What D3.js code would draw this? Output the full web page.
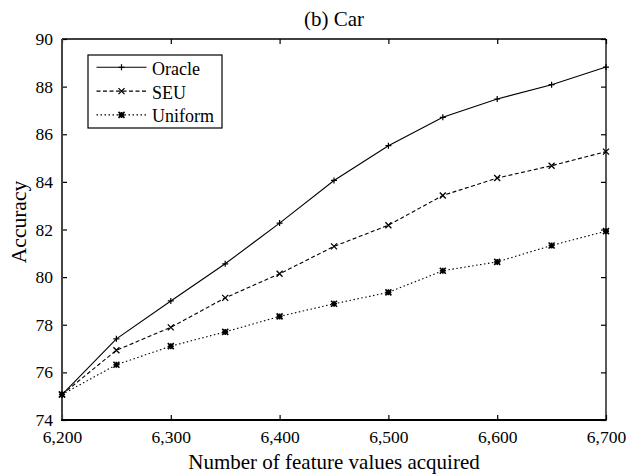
<!DOCTYPE html>
<html><head><meta charset="utf-8">
<script src="https://cdn.jsdelivr.net/npm/d3@7"></script>
<style>body{margin:0;background:#fff}</style>
</head><body><svg id="c" width="626" height="474"></svg>
<script>
const xValues = [6200,6250,6300,6350,6400,6450,6500,6550,6600,6650,6700];
const oracle  = [75.07,77.41,79.0,80.56,82.27,84.06,85.52,86.71,87.48,88.08,88.82];
const seu     = [75.07,76.93,77.89,79.13,80.14,81.29,82.18,83.43,84.16,84.68,85.27];
const uniform = [75.07,76.32,77.1,77.7,78.35,78.88,79.36,80.27,80.64,81.33,81.93];
const seriesNames = ["Oracle","SEU","Uniform"];
const xTicks = [6200,6300,6400,6500,6600,6700];
const yTicks = [74,76,78,80,82,84,86,88,90];
const titleText = "(b) Car";
const xLabel = "Number of feature values acquired";
const yLabel = "Accuracy";

const FONT = "Liberation Serif";
const svg = d3.select("#c");
const L=62,R=606,T=39,B=420;
const x = d3.scaleLinear().domain([6200,6700]).range([L,R]);
const y = d3.scaleLinear().domain([74,90]).range([B,T]);
const fmt = d3.format(",");
const tickFs = 17.5, labFs = 21, legFs = 18;

const tk=5;
function styleAxis(g){
  g.select(".domain").remove();
  g.selectAll("text").style("font-family",FONT).style("font-size",tickFs+"px").attr("fill","#000");
  g.selectAll(".tick line").attr("stroke","#000").attr("stroke-width",1.2);
}
svg.append("g").attr("transform",`translate(0,${B})`)
  .call(d3.axisBottom(x).tickValues(xTicks).tickFormat(fmt).tickSizeInner(-tk).tickSizeOuter(0).tickPadding(11))
  .call(styleAxis);
svg.append("g").attr("transform",`translate(0,${T})`)
  .call(d3.axisTop(x).tickValues(xTicks).tickFormat("").tickSizeInner(-tk).tickSizeOuter(0))
  .call(styleAxis);
svg.append("g").attr("transform",`translate(${L},0)`)
  .call(d3.axisLeft(y).tickValues(yTicks).tickFormat(d3.format("d")).tickSizeInner(-tk).tickSizeOuter(0).tickPadding(9))
  .call(styleAxis);
svg.append("g").attr("transform",`translate(${R},0)`)
  .call(d3.axisRight(y).tickValues(yTicks).tickFormat("").tickSizeInner(-tk).tickSizeOuter(0))
  .call(styleAxis);

// frame
svg.append("line").attr("x1",L).attr("x2",R).attr("y1",T).attr("y2",T).attr("stroke","#000").attr("stroke-width",1.3);
svg.append("line").attr("x1",R).attr("x2",R).attr("y1",T).attr("y2",B).attr("stroke","#000").attr("stroke-width",1.3);
svg.append("line").attr("x1",L).attr("x2",L).attr("y1",T).attr("y2",B).attr("stroke","#444").attr("stroke-width",2);
svg.append("line").attr("x1",L-1).attr("x2",R+0.6).attr("y1",B).attr("y2",B).attr("stroke","#000").attr("stroke-width",2);

function txt(fs){ return svg.append("text").style("font-family",FONT).style("font-size",fs+"px").attr("fill","#000"); }
txt(labFs).attr("x",334).attr("y",26).attr("text-anchor","middle").text(titleText);
txt(labFs).attr("x",334).attr("y",468.5).attr("text-anchor","middle").text(xLabel);
txt(labFs+0.5).attr("transform",`translate(26,222) rotate(-90)`).attr("text-anchor","middle").text(yLabel);

const data = [oracle,seu,uniform];
const dashes = [null,"4,2.5","1.5,2.5"];
function marker(g,kind,cx,cy){
  const s=3;
  if(kind===0){
    g.append("path").attr("d",`M${cx-s},${cy}H${cx+s}M${cx},${cy-s}V${cy+s}`).attr("stroke","#000").attr("stroke-width",1.2);
  } else if(kind===1){
    g.append("path").attr("d",`M${cx-s},${cy-s}L${cx+s},${cy+s}M${cx-s},${cy+s}L${cx+s},${cy-s}`).attr("stroke","#000").attr("stroke-width",1.3);
  } else {
    g.append("path").attr("d",`M${cx-s},${cy}H${cx+s}M${cx},${cy-s}V${cy+s}M${cx-s},${cy-s}L${cx+s},${cy+s}M${cx-s},${cy+s}L${cx+s},${cy-s}`).attr("stroke","#000").attr("stroke-width",1.6);
  }
}
const line = d3.line().x((d,i)=>x(xValues[i])).y(d=>y(d));
data.forEach((vals,k)=>{
  svg.append("path").datum(vals).attr("d",line).attr("fill","none").attr("stroke","#000")
    .attr("stroke-width",1.1).attr("stroke-dasharray",dashes[k]);
  const g=svg.append("g");
  vals.forEach((v,i)=>marker(g,k,x(xValues[i]),y(v)));
});

const lg = svg.append("g");
lg.append("rect").attr("x",88).attr("y",55).attr("width",134).attr("height",73)
  .attr("fill","#fff").attr("stroke","#000").attr("stroke-width",1.2);
seriesNames.forEach((n,k)=>{
  const yy = 67.3 + k*23.8;
  lg.append("line").attr("x1",96.5).attr("x2",146.5).attr("y1",yy).attr("y2",yy)
    .attr("stroke","#000").attr("stroke-width",1.1).attr("stroke-dasharray",dashes[k]);
  marker(lg,k,121.5,yy);
  lg.append("text").style("font-family",FONT).style("font-size",legFs+"px").attr("fill","#000")
    .attr("x",152).attr("y",yy+7.5).text(n);
});
</script></body></html>
